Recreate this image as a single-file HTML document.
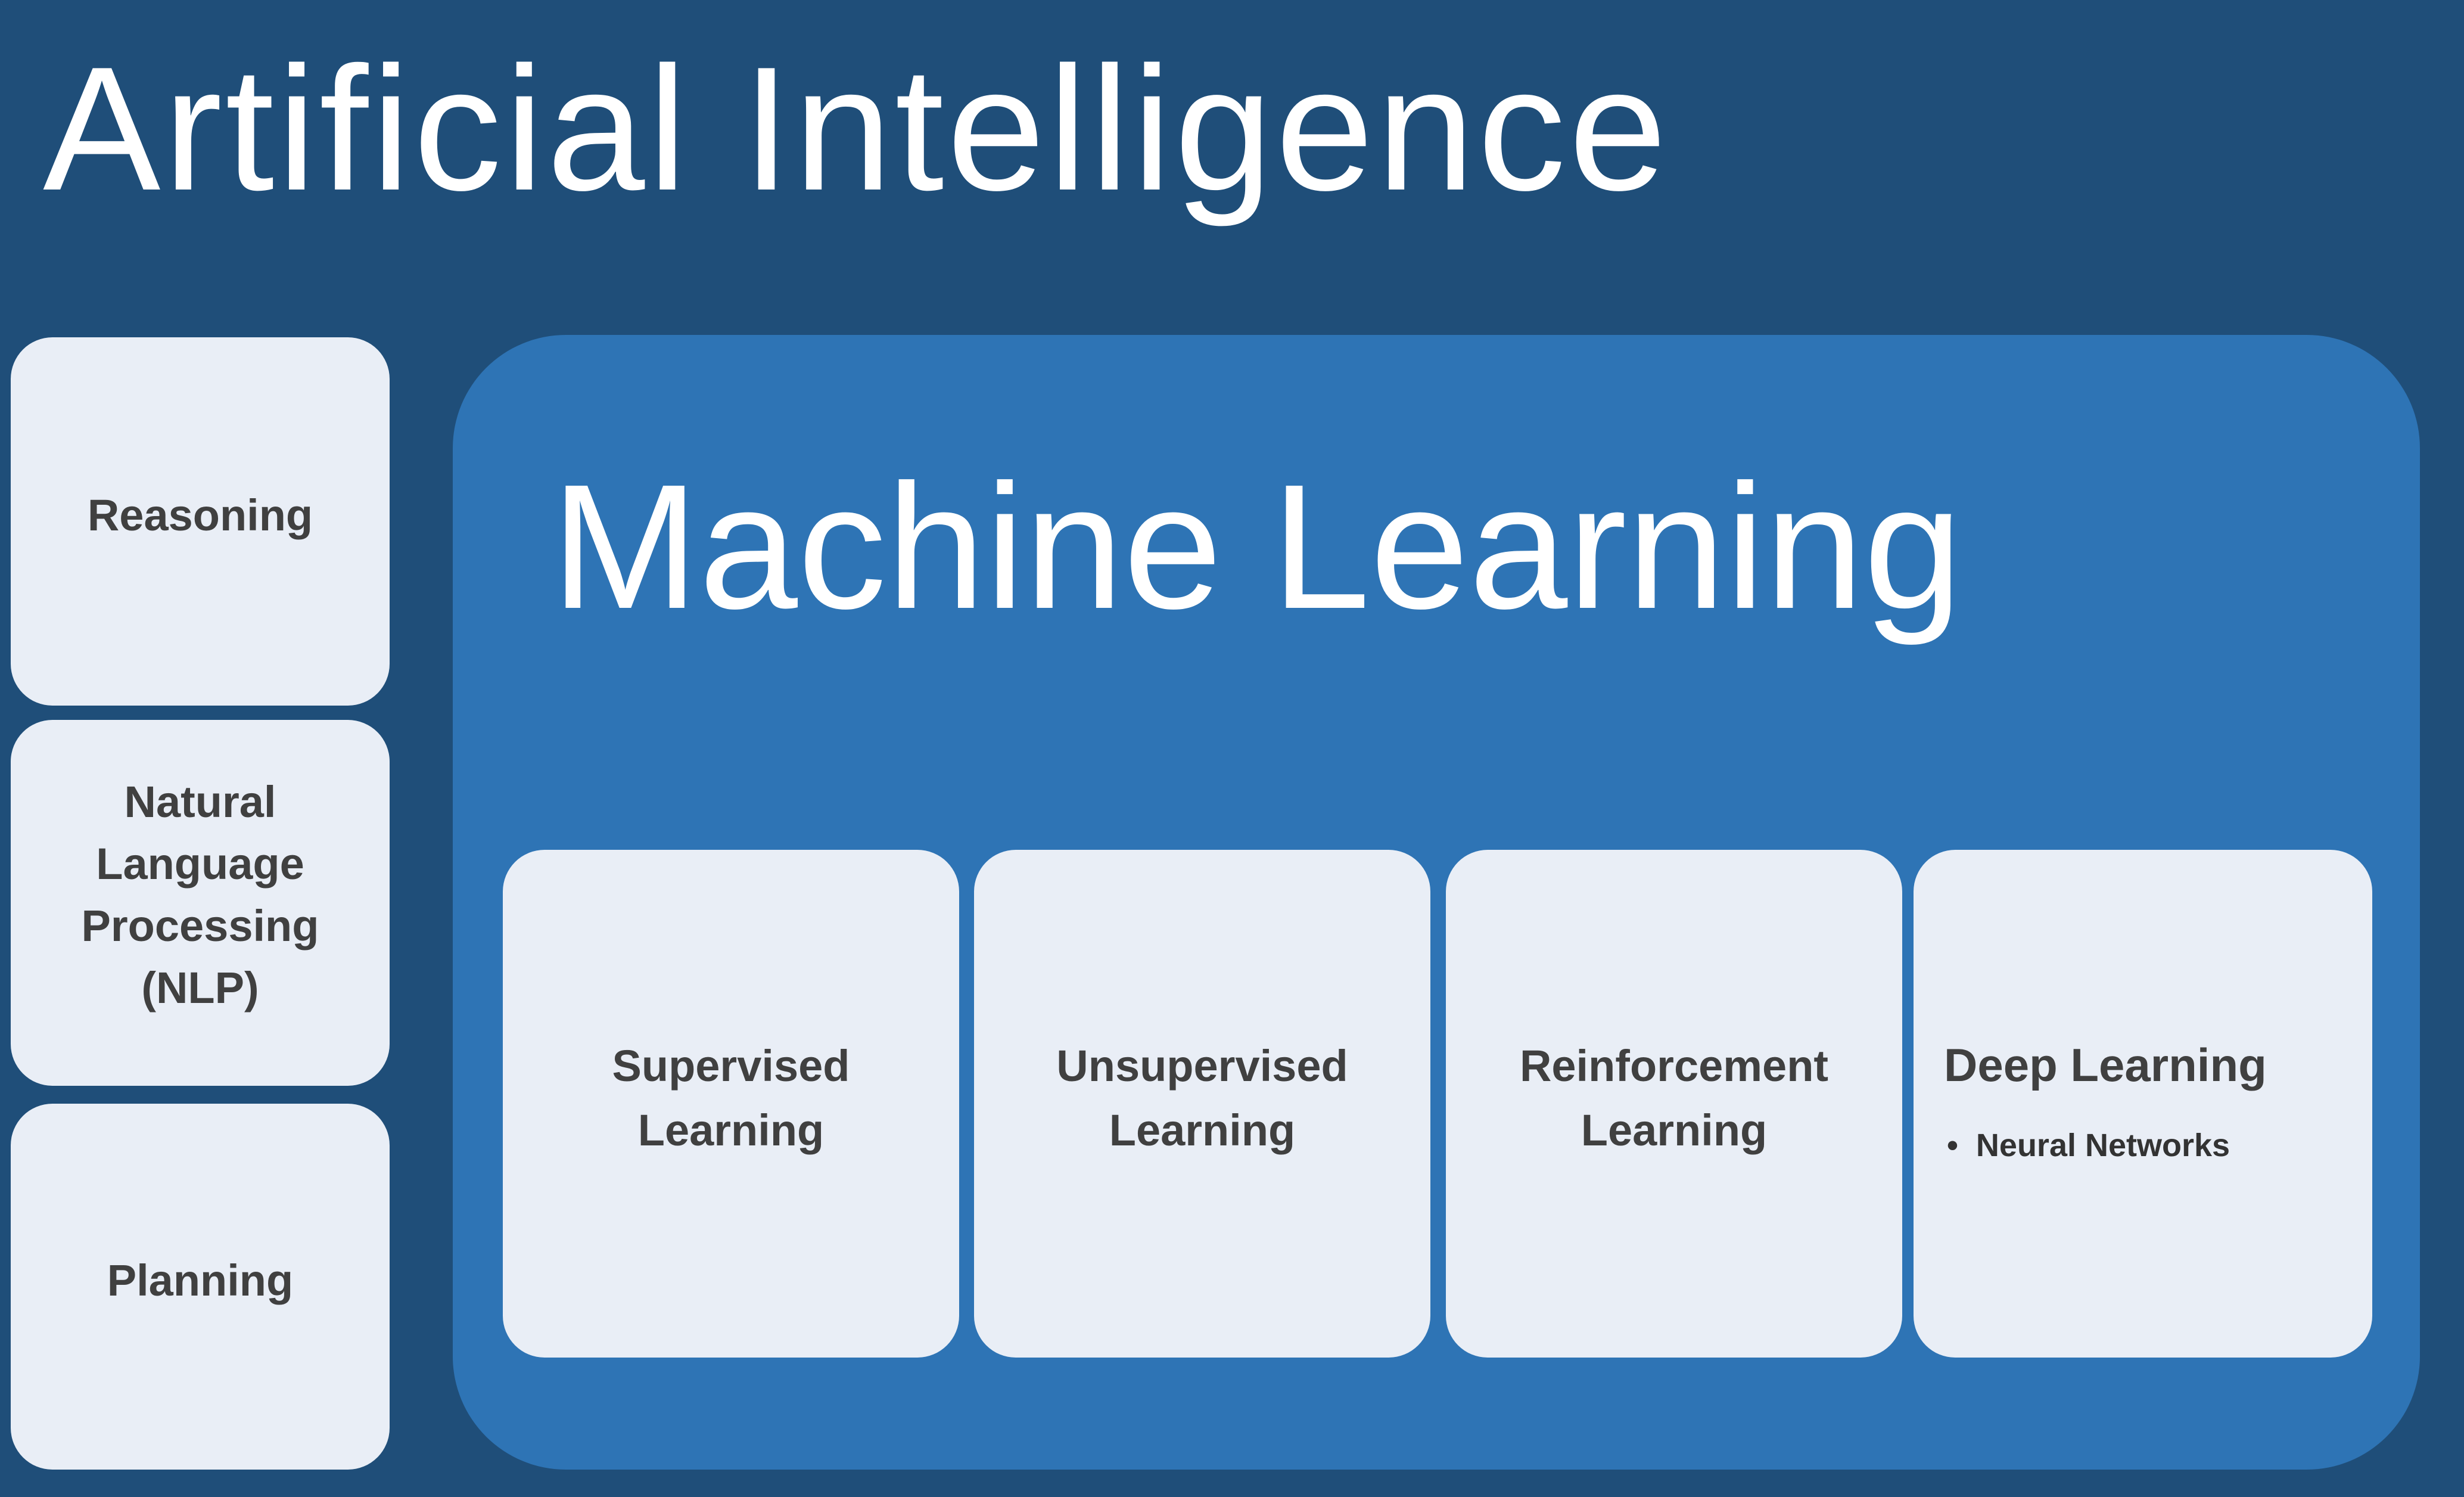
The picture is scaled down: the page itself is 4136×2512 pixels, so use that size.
<!DOCTYPE html>
<html><head><meta charset="utf-8"><style>
html,body{margin:0;padding:0}
body{width:4136px;height:2512px;background:#1f4e79;position:relative;overflow:hidden;font-family:"Liberation Sans",sans-serif}
.t{position:absolute;white-space:nowrap}
.box{position:absolute;background:#e9eef6;border-radius:70px}
.lbl{position:absolute;left:0;right:0;text-align:center;color:#404040;font-weight:bold;font-size:74px;line-height:1}
</style></head><body>
<div class="t" style="left:72px;top:66px;font-size:296px;letter-spacing:5px;color:#fff;line-height:300px;">Artificial Intelligence</div>

<div class="box" style="left:18px;top:566px;width:636px;height:618px;"></div>
<div class="box" style="left:18px;top:1208px;width:636px;height:614px;"></div>
<div class="box" style="left:18px;top:1852px;width:636px;height:614px;"></div>
<div class="t lbl" style="left:18px;width:636px;top:828px;">Reasoning</div>
<div class="t lbl" style="left:18px;width:636px;top:1294px;line-height:104px;white-space:normal;">Natural<br>Language<br>Processing<br>(NLP)</div>
<div class="t lbl" style="left:18px;width:636px;top:2112px;">Planning</div>

<div style="position:absolute;left:760px;top:562px;width:3302px;height:1904px;background:#2e74b5;border-radius:190px;"></div>
<div class="t" style="left:925px;top:768px;font-size:298px;color:#fff;line-height:300px;">Machine Learning</div>

<div class="box" style="left:844px;top:1426px;width:766px;height:852px;"></div>
<div class="box" style="left:1635px;top:1426px;width:766px;height:852px;"></div>
<div class="box" style="left:2427px;top:1426px;width:766px;height:852px;"></div>
<div class="box" style="left:3212px;top:1426px;width:770px;height:852px;"></div>
<div class="t lbl" style="left:844px;width:766px;top:1735px;line-height:108px;">Supervised<br>Learning</div>
<div class="t lbl" style="left:1635px;width:766px;top:1735px;line-height:108px;">Unsupervised<br>Learning</div>
<div class="t lbl" style="left:2427px;width:766px;top:1735px;line-height:108px;">Reinforcement<br>Learning</div>
<div class="t" style="left:3263px;top:1748px;font-size:78px;color:#404040;font-weight:bold;line-height:1">Deep Learning</div>
<div class="t" style="left:3268px;top:1895px;font-size:54px;color:#333;font-weight:bold;line-height:1">•&nbsp;&nbsp;Neural Networks</div>
</body></html>
